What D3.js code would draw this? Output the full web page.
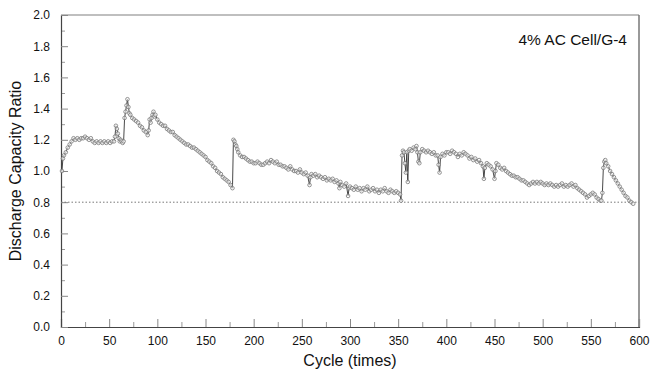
<!DOCTYPE html>
<html>
<head>
<meta charset="utf-8">
<script src="https://cdn.jsdelivr.net/npm/d3@7"></script>
<style>
  body { margin: 0; background: #fff; }
  text { font-family: "Liberation Sans", Arial, sans-serif; fill: #111; }
</style>
</head>
<body>
<div id="chart"></div>
<script>
// cycle numbers and discharge capacity ratio
var cycles = [1,2,3,5,7,9,11,13,15,17,19,21,23,25,27,29,31,33,35,37,39,41,43,45,47,49,51,53,55,
  56,57,58,59,60,61,62,63,64,65,66,67,68,69,70,71,72,74,76,78,80,82,84,86,88,90,91,92,93,94,95,96,97,98,
  100,102,104,106,108,110,112,114,116,118,120,122,124,126,128,130,132,134,136,138,140,142,144,146,148,150,
  152,154,156,158,160,162,164,166,168,170,172,174,176,178,179,180,181,182,183,184,186,188,190,192,194,196,198,
  200,202,204,206,208,210,212,214,216,218,220,222,224,226,228,230,232,234,236,238,240,242,244,246,248,250,
  252,254,256,258,259,260,262,264,266,268,270,272,274,276,278,280,282,284,286,288,289,290,292,294,296,298,299,
  300,302,304,306,308,310,312,314,316,318,320,322,324,326,328,330,332,334,336,338,340,342,344,346,348,350,
  352,353,354,355,356,357,358,359,360,361,362,364,366,368,369,370,371,372,373,375,377,379,381,383,385,387,389,
  391,392,393,394,396,398,400,402,404,406,408,410,412,414,416,418,420,422,424,426,428,430,432,434,436,438,439,
  440,442,444,446,448,450,451,452,454,456,458,460,462,464,466,468,470,472,474,476,478,480,482,484,486,488,490,
  492,494,496,498,500,502,504,506,508,510,512,514,516,518,520,522,524,526,528,530,532,534,536,538,540,542,544,
  546,548,550,552,554,556,558,560,561,562,563,564,565,566,568,570,572,574,576,578,580,582,584,586,588,590,592,594];
var ratio = [1.00,1.08,1.10,1.12,1.15,1.17,1.19,1.21,1.20,1.21,1.20,1.21,1.21,1.22,1.21,1.20,1.21,1.19,1.18,1.19,1.18,1.19,1.18,1.19,1.18,1.19,1.18,1.19,1.19,
  1.22,1.29,1.27,1.24,1.21,1.19,1.20,1.19,1.18,1.19,1.34,1.38,1.42,1.46,1.41,1.37,1.36,1.34,1.33,1.32,1.31,1.29,1.28,1.26,1.25,1.23,1.26,1.33,1.31,1.34,1.36,1.38,1.35,1.36,
  1.33,1.31,1.30,1.29,1.29,1.27,1.26,1.25,1.25,1.23,1.22,1.21,1.20,1.19,1.18,1.17,1.17,1.16,1.15,1.15,1.14,1.13,1.12,1.11,1.10,1.09,
  1.07,1.06,1.05,1.03,1.02,1.00,0.99,0.98,0.96,0.95,0.94,0.93,0.91,0.89,1.20,1.19,1.17,1.16,1.14,1.12,1.10,1.09,1.09,1.08,1.07,1.06,1.06,
  1.05,1.05,1.06,1.05,1.04,1.04,1.05,1.06,1.05,1.07,1.06,1.05,1.06,1.04,1.04,1.03,1.03,1.02,1.01,1.03,1.01,1.00,1.00,0.99,1.01,0.99,
  0.98,0.99,0.97,0.91,0.96,0.98,0.97,0.98,0.96,0.97,0.96,0.95,0.96,0.94,0.95,0.94,0.95,0.93,0.94,0.92,0.89,0.93,0.91,0.90,0.92,0.84,0.89,
  0.90,0.89,0.88,0.90,0.88,0.89,0.87,0.89,0.88,0.90,0.87,0.88,0.89,0.87,0.88,0.86,0.88,0.87,0.89,0.87,0.86,0.88,0.87,0.86,0.87,0.86,
  0.85,0.81,1.10,1.13,1.12,1.05,0.99,1.12,0.93,1.13,1.14,1.13,1.15,1.14,1.16,1.12,1.06,1.05,1.12,1.14,1.13,1.12,1.13,1.12,1.11,1.12,1.10,
  1.10,1.04,0.99,1.09,1.11,1.10,1.12,1.12,1.11,1.13,1.12,1.11,1.09,1.11,1.10,1.12,1.11,1.10,1.08,1.09,1.07,1.08,1.06,1.07,1.05,1.03,0.95,
  1.02,1.05,1.04,1.03,1.01,0.95,1.00,1.05,1.04,1.02,1.01,1.02,1.00,0.99,0.98,0.97,0.97,0.96,0.96,0.95,0.94,0.94,0.93,0.92,0.91,0.92,0.93,
  0.92,0.93,0.92,0.93,0.92,0.91,0.92,0.91,0.92,0.91,0.90,0.91,0.90,0.91,0.92,0.90,0.91,0.90,0.91,0.92,0.90,0.91,0.89,0.88,0.87,0.86,0.85,
  0.83,0.84,0.85,0.86,0.85,0.83,0.82,0.81,0.81,0.86,1.02,1.06,1.07,1.05,1.03,1.00,0.98,0.96,0.94,0.92,0.90,0.88,0.86,0.84,0.83,0.81,0.80,0.79];

var xTicks = [0,50,100,150,200,250,300,350,400,450,500,550,600];
var yTicks = [0.0,0.2,0.4,0.6,0.8,1.0,1.2,1.4,1.6,1.8,2.0];
var refLine = 0.8;
var label = "4% AC Cell/G-4";

var data = cycles.map(function (c, i) { return { c: c, v: ratio[i] }; });

var margin = { top: 15, right: 11, bottom: 46, left: 61 },
    width = 650 - margin.left - margin.right,
    height = 373 - margin.top - margin.bottom;

var x = d3.scaleLinear().domain([0, 600]).range([0, width]);
var y = d3.scaleLinear().domain([0, 2]).range([height, 0]);

var svg = d3.select("#chart").append("svg")
    .attr("width", 650)
    .attr("height", 373)
    .append("g")
    .attr("transform", "translate(" + margin.left + "," + margin.top + ")");

// frame top and right
svg.append("line").attr("x1", 0).attr("x2", width).attr("y1", 0).attr("y2", 0)
    .attr("stroke", "#aaa").attr("stroke-width", 1.5);
svg.append("line").attr("x1", width).attr("x2", width).attr("y1", 0).attr("y2", height)
    .attr("stroke", "#777").attr("stroke-width", 1.5);

// minor ticks
svg.append("g")
    .attr("transform", "translate(0," + height + ")")
    .call(d3.axisBottom(x).tickValues(d3.range(25, 600, 50)).tickSize(-5).tickFormat(""))
    .call(g => g.select(".domain").remove())
    .selectAll("line").attr("stroke", "#999");
svg.append("g")
    .call(d3.axisLeft(y).tickValues(d3.range(0.1, 2, 0.2)).tickSize(-4).tickFormat(""))
    .call(g => g.select(".domain").remove())
    .selectAll("line").attr("stroke", "#999");

// x axis
var xa = svg.append("g")
    .attr("transform", "translate(0," + height + ")")
    .call(d3.axisBottom(x).tickValues(xTicks).tickSize(-8).tickPadding(9).tickFormat(d3.format("d")));
xa.select(".domain").attr("stroke", "#444").attr("stroke-width", 1.2);
xa.selectAll(".tick line").attr("stroke", "#888");
xa.selectAll("text").attr("font-size", 12).attr("fill", "#111").attr("font-family", "Liberation Sans, Arial, sans-serif");

// y axis
var ya = svg.append("g")
    .call(d3.axisLeft(y).tickValues(yTicks).tickSize(-7).tickPadding(11).tickFormat(d3.format(".1f")));
ya.select(".domain").attr("stroke", "#444").attr("stroke-width", 1.2);
ya.selectAll(".tick line").attr("stroke", "#888");
ya.selectAll("text").attr("font-size", 12).attr("fill", "#111").attr("font-family", "Liberation Sans, Arial, sans-serif");

// 0.8 reference
svg.append("line")
    .attr("x1", x(0)).attr("x2", x(600))
    .attr("y1", y(refLine)).attr("y2", y(refLine))
    .attr("stroke", "#777").attr("stroke-width", 1).attr("stroke-dasharray", "1.5,2");

// series
svg.append("path")
    .datum(data)
    .attr("fill", "none")
    .attr("stroke", "#333")
    .attr("stroke-width", 0.9)
    .attr("d", d3.line().x(d => x(d.c)).y(d => y(d.v)));

svg.append("g").selectAll("circle")
    .data(data)
    .enter()
    .append("circle")
    .attr("cx", d => x(d.c))
    .attr("cy", d => y(d.v))
    .attr("r", 1.8)
    .attr("fill", "#fff")
    .attr("fill-opacity", 0.6)
    .attr("stroke", "#777")
    .attr("stroke-width", 0.8);

// labels
svg.append("text")
    .attr("x", width - 12).attr("y", 30)
    .attr("text-anchor", "end")
    .attr("font-size", 15.5)
    .text(label);

svg.append("text")
    .attr("x", width / 2).attr("y", height + 39)
    .attr("text-anchor", "middle")
    .attr("font-size", 16)
    .text("Cycle (times)");

svg.append("text")
    .attr("transform", "translate(" + (-40) + "," + (height / 2) + ") rotate(-90)")
    .attr("text-anchor", "middle")
    .attr("font-size", 16)
    .text("Discharge Capacity Ratio");
</script>
</body>
</html>
